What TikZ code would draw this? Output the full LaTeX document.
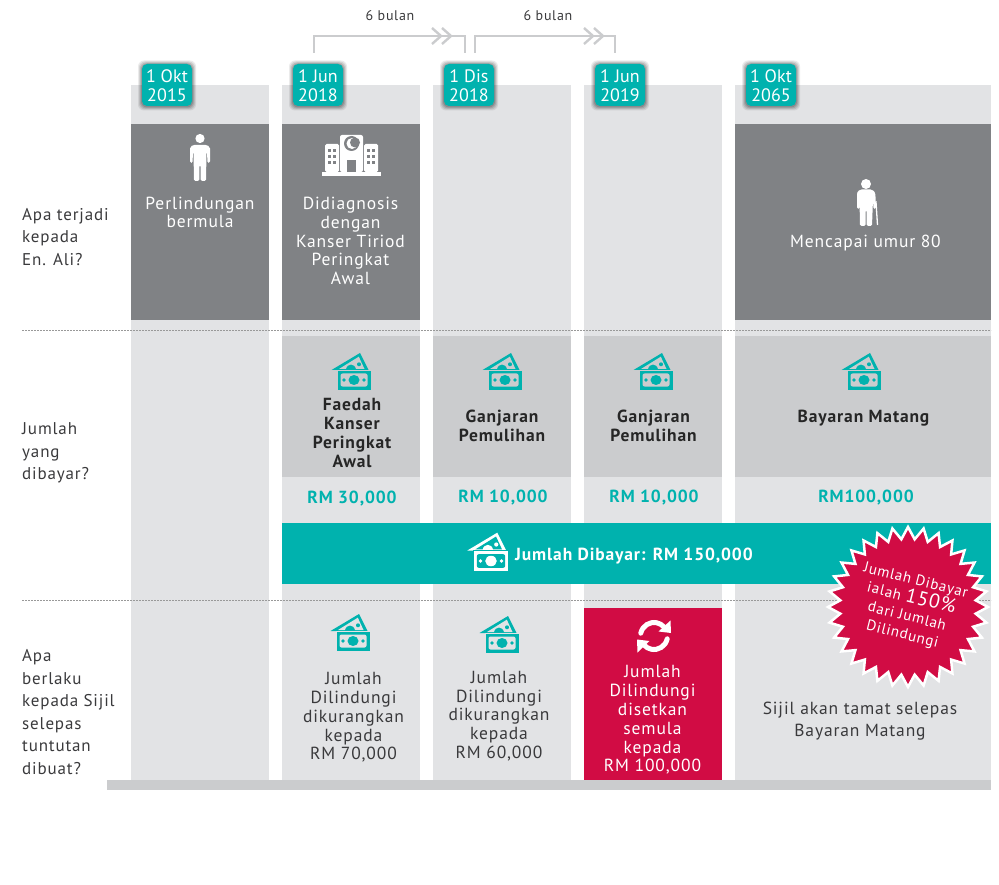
\documentclass[tikz,border=0pt]{standalone}
\usepackage{fontspec}
\setmainfont[LetterSpace=5]{PT Sans}
\newfontfamily\badgefont[LetterSpace=0.5]{PT Sans}
\usetikzlibrary{arrows.meta}
\definecolor{teal0}{HTML}{00B2AE}
\definecolor{dark0}{HTML}{808285}
\definecolor{light0}{HTML}{E2E3E5}
\definecolor{mid0}{HTML}{CBCCCE}
\definecolor{red0}{HTML}{D10C44}
\definecolor{ink0}{HTML}{3A3A3C}
\newcommand{\moneyicon}[5]{%
\begin{scope}[shift={(#1,#2)},scale=#3]
\fill[#4] (-22.5,-10) -- (6,-27) -- (14.5,-10) -- cycle;
\fill[#5] (-15,-11) -- (4.8,-23.3) -- (10.5,-11) -- cycle;
\fill[#4] (-8,-10.5) .. controls (-7,-17) and (1,-17) .. (2,-10.5) -- cycle;
\fill[#4] (5,-15.7) circle (2);
\fill[#4,draw=#5,line width=.8pt] (-17,-10) rectangle (17,10);
\fill[#5,rounded corners=2pt] (-13.5,-6.5) rectangle (13.5,6.5);
\fill[#4] (0,0) ellipse (5.5 and 5);
\fill[#4] (-10,0) circle (1.8) (10,0) circle (1.8);
\end{scope}}
\tikzset{x=1pt,y=-1pt,
 txt/.style={align=center,font=\fontsize{17.5}{18.8}\selectfont,text=ink0,inner sep=0pt,anchor=center},
 wtxt/.style={txt,text=white},
 btxt/.style={txt,font=\fontsize{17.5}{18.8}\selectfont\bfseries,text=black!85},
 ttxt/.style={txt,font=\fontsize{17.5}{18.8}\selectfont\bfseries,text=teal0},
 side/.style={align=left,anchor=west,font=\fontsize{17}{22.6}\selectfont,text=ink0,inner sep=0pt},
 badge/.style={txt,text=white,font=\badgefont\fontsize{18}{18.5}\selectfont},
 bracket/.style={draw=mid0,line width=2.2pt},
 dash0/.style={draw=black!40,dash pattern=on 2pt off 1pt,line width=.7pt}}
\begin{document}
\begin{tikzpicture}
\useasboundingbox (0,0) rectangle (999,885);
% columns
\foreach \a/\b in {131/269,282/420,433/571,584/722,735/991}
  \fill[light0] (\a,85) rectangle (\b,780);
\fill[mid0] (107,780) rectangle (991,790);
% dark panels
\foreach \a/\b in {131/269,282/420,735/991}
  \fill[dark0] (\a,124) rectangle (\b,320);
% mid panels
\foreach \a/\b in {282/420,433/571,584/722,735/991}
  \fill[mid0] (\a,336) rectangle (\b,477);
% dashed rules
\coordinate (d1a) at (22,330); \coordinate (d1b) at (991,330);
\coordinate (d2a) at (22,600); \coordinate (d2b) at (991,600);
\draw[dash0] (d1a) -- (d1b);
\draw[dash0] (d2a) -- (d2b);
% teal bar and red panel
\fill[teal0] (282,523) rectangle (991,584);
\fill[red0] (584,608) rectangle (722,780);
% brackets
\foreach \a/\b/\c in {314/465/432,475/615/584}{
  \draw[bracket] (\a,53) -- (\a,36) -- (\b,36) -- (\b,53);
  \fill[white] (\c,28) rectangle (\c+20,46);
  \draw[bracket] (\c,36) -- (\c+20,36);
  \draw[bracket,line width=2.4pt] (\c,28) -- (\c+9,36) -- (\c,44);
  \draw[bracket,line width=2.4pt] (\c+10,28) -- (\c+19,36) -- (\c+10,44);
}
\node[txt,font=\fontsize{14}{16}\selectfont] (m1) at (390,16) {6 bulan};
\node[txt,font=\fontsize{14}{16}\selectfont] (m2) at (548,16) {6 bulan};
% badges
\foreach \n/\x/\t in {b1/167/{1 Okt\\2015},b2/318/{1 Jun\\2018},b3/469/{1 Dis\\2018},b4/620/{1 Jun\\2019},b5/771/{1 Okt\\2065}}{
  \foreach \e/\o in {4/.08,3/.1,2/.12,1/.15}
    \fill[black,opacity=\o,rounded corners=6pt] (\x-25-\e,64-\e+.5) rectangle (\x+25+\e,106+\e+.5);
  \fill[teal0,rounded corners=5pt] (\x-25,64) rectangle (\x+25,106);
  \node[badge] (\n) at (\x,85.5) {\t};
}
% person
\fill[white] (200,138.5) circle (4.6);
\fill[white,rounded corners=1.5pt] (190,163) -- (190,150) .. controls (190,146) and (193,145) .. (196,145) -- (204,145) .. controls (207,145) and (210,146) .. (210,150) -- (210,163) -- (207.5,163) -- (207,152) -- (206.5,152) -- (206,181) -- (200.7,181) -- (200.7,165) -- (199.3,165) -- (199.3,181) -- (194,181) -- (193.5,152) -- (193,152) -- (192.5,163) -- cycle;
% hospital
\fill[white] (322,172) rectangle (381,176);
\fill[white,rounded corners=1.5pt] (325,172) -- (325,144) -- (339,144) -- (339,172) -- cycle;
\fill[white,rounded corners=1.5pt] (364,172) -- (364,144) -- (378,144) -- (378,172) -- cycle;
\fill[white,rounded corners=2pt] (340,172) -- (340,135) -- (363,135) -- (363,172) -- cycle;
\fill[dark0] (351.5,143.5) circle (7.5);
\fill[white] (352,143.5) circle (5.5);
\fill[dark0] (355,142.5) circle (5);
\fill[dark0] (347,160) rectangle (356,172);
\foreach \xx in {328,333,367,372}\foreach \yy in {149,155,161}
  \fill[dark0] (\xx,\yy) rectangle (\xx+3,\yy+3);
% elder
\fill[white] (866,184) circle (5);
\fill[white,rounded corners=1.5pt] (857,209) -- (857,196) .. controls (857,191) and (860,189.5) .. (863,189.5) -- (869,189.5) .. controls (872,189.5) and (875,191) .. (875.5,196) -- (876,209) -- (873.5,209) -- (873,199) -- (872,226) -- (866.5,226) -- (866.5,210) -- (865.5,210) -- (865.5,226) -- (860,226) -- (859.5,199) -- (859.3,209) -- cycle;
\draw[white,line width=1.3pt] (872,203.5) -- (876,202) -- (877.5,225);
% money icons
\moneyicon{354}{380}{1}{teal0}{mid0}
\moneyicon{505}{380}{1}{teal0}{mid0}
\moneyicon{656}{380}{1}{teal0}{mid0}
\moneyicon{864}{380}{1}{teal0}{mid0}
\moneyicon{353}{641}{1}{teal0}{light0}
\moneyicon{502}{643}{1}{teal0}{light0}
\moneyicon{491}{561}{1.05}{white}{teal0}
% refresh
\draw[white,line width=5pt,line cap=round] (654,636) ++(192:13.5) arc[start angle=192,end angle=318,radius=13.5];
\draw[white,line width=5pt,line cap=round] (654,636) ++(12:13.5) arc[start angle=12,end angle=138,radius=13.5];
\fill[white] (670.5,620.5) -- (671,633) -- (658.5,631.5) -- cycle;
\fill[white] (637.5,652.5) -- (637,639.5) -- (649.5,641) -- cycle;
% texts top row
\node[wtxt] (t1) at (200,212.5) {Perlindungan\\bermula};
\node[wtxt] (t2) at (350.5,241) {Didiagnosis\\dengan\\Kanser Tiriod\\Peringkat\\Awal};
\node[wtxt] (t3) at (865.5,243) {Mencapai umur 80};
% payments
\node[btxt] (p1) at (352,433) {Faedah\\Kanser\\Peringkat\\Awal};
\node[btxt] (p2) at (502,426) {Ganjaran\\Pemulihan};
\node[btxt] (p3) at (653.5,426) {Ganjaran\\Pemulihan};
\node[btxt] (p4) at (863.5,418) {Bayaran Matang};
\node[ttxt] (a1) at (352,499) {RM 30,000};
\node[ttxt] (a2) at (503,498) {RM 10,000};
\node[ttxt] (a3) at (654,498) {RM 10,000};
\node[ttxt] (a4) at (866,498) {RM100,000};
\node[btxt,text=white,anchor=west] (tot) at (515,556) {Jumlah Dibayar: RM 150,000};
% bottom row
\node[txt] (c1) at (353.5,717.5) {Jumlah\\Dilindungi\\dikurangkan\\kepada\\RM 70,000};
\node[txt] (c2) at (499,716) {Jumlah\\Dilindungi\\dikurangkan\\kepada\\RM 60,000};
\node[wtxt] (c3) at (652.5,720) {Jumlah\\Dilindungi\\disetkan\\semula\\kepada\\RM 100,000};
\node[txt] (c4) at (860,721) {Sijil akan tamat selepas\\[3pt]Bayaran Matang};
% side labels
\node[side] (s1) at (22,237) {Apa terjadi\\kepada\\En. Ali?};
\node[side] (s2) at (22,453) {Jumlah\\yang\\dibayar?};
\node[side] (s3) at (22,712) {Apa\\berlaku\\kepada Sijil\\selepas\\tuntutan\\dibuat?};
% starburst
\begin{scope}
\clip (780,500) rectangle (991,700);
\draw[fill=red0,draw=white,line width=2.5pt,line join=miter,miter limit=3]
 (908+80,607) \foreach \i in {0,...,31}{ -- ({908+68*cos((\i+.5)*11.25)},{607+68*sin((\i+.5)*11.25)}) -- ({908+80*cos((\i+1)*11.25)},{607+80*sin((\i+1)*11.25)}) } -- cycle;
\end{scope}
\node[wtxt,rotate=-14,font=\fontsize{15}{18.5}\selectfont] (st) at (909,608) {Jumlah Dibayar\\ialah {\fontsize{20}{18.5}\selectfont 150\%}\\dari Jumlah\\Dilindungi};
\end{tikzpicture}
\end{document}
